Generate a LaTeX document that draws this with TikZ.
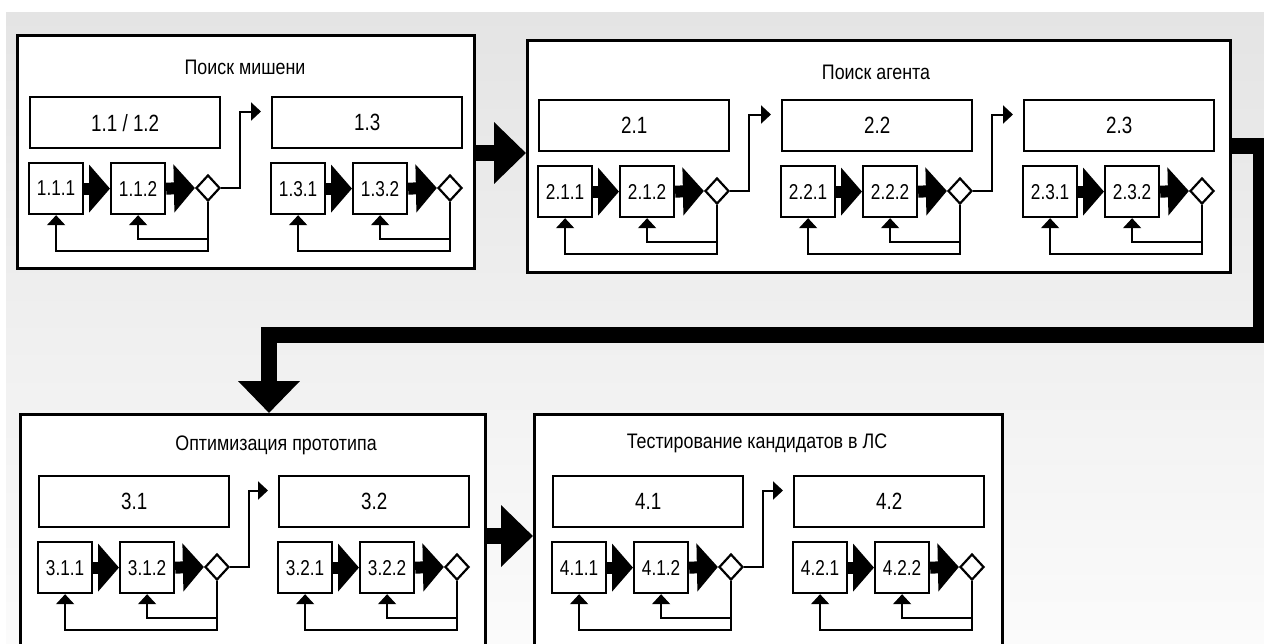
\documentclass[tikz,border=0pt]{standalone}
\usepackage{fontspec}
\setmainfont{Liberation Sans}[FakeStretch=0.8]
\newfontfamily\ttlfont{Liberation Sans}[FakeStretch=0.85]
\usetikzlibrary{arrows.meta,calc,shapes.geometric}
\tikzset{
  outer/.style={draw, line width=2.6pt, fill=white, anchor=north west, inner sep=0pt},
  hdr/.style={draw, line width=2.4pt, fill=white, minimum width=190pt, minimum height=51pt,
    anchor=north west, inner sep=0pt, font=\fontsize{23.5}{23.5}\selectfont},
  sbox/.style={draw, line width=2.2pt, fill=white, minimum width=54pt, minimum height=51pt,
    anchor=north west, inner sep=0pt, font=\fontsize{21.5}{21.5}\selectfont},
  dec/.style={diamond, draw, line width=2.2pt, fill=white, minimum width=24pt,
    minimum height=26pt, inner sep=0pt},
  conn/.style={line width=2pt, -{Triangle[length=10pt,width=18pt]}},
  fat/.style={line width=12pt, -{Triangle[length=21pt,width=47pt]}},
  big/.style={line width=16pt, line join=miter, -{Triangle[length=32pt,width=60pt]}},
  ttl/.style={font=\ttlfont\fontsize{21}{21}\selectfont, inner sep=0pt}
}
\newcommand\modul[6]{%
  \node[hdr] (h#1) at (#2,#3) {#4};
  \node[sbox] (a#1) at (#2-1,#3+66) {#5};
  \node[sbox] (b#1) at (#2+81,#3+66) {#6};
  \node[dec] (d#1) at (#2+179,#3+92) {};
  \draw[fat] (a#1.east) -- (b#1.west);
  \draw[fat] (b#1.east) -- (d#1.west);
  \draw[conn] (d#1.south) |- ($(a#1.south)+(0,36)$) -- (a#1.south);
  \draw[conn] ($(d#1.south|-b#1.south)+(0,24)$) -| (b#1.south);
}
\newcommand\jump[2]{%
  \draw[conn] (d#1.east) -| ($(h#1.north east)+(19,15.5)$) -- ($(h#2.north west)+(-10,15.5)$);
}
\begin{document}
\begin{tikzpicture}[x=1pt,y=-1pt]
\useasboundingbox (0,0) rectangle (1264,643);
\clip (0,0) rectangle (1264,643);
\fill[white] (0,0) rectangle (1264,643);
\shade[top color={rgb,255:red,228;green,228;blue,228}, bottom color={rgb,255:red,251;green,251;blue,251}]
  (6,12) rectangle (1264,643);

% outer groups
\node[outer, minimum width=457pt, minimum height=233pt] (g1) at (16,34) {};
\node[outer, minimum width=703pt, minimum height=232pt] (g2) at (526,39) {};
\node[outer, minimum width=465pt, minimum height=260pt] (g3) at (19,413) {};
\node[outer, minimum width=468pt, minimum height=260pt] (g4) at (533,413) {};

\node[ttl] (t1) at (245,67) {Поиск мишени};
\node[ttl] (t2) at (876,72) {Поиск агента};
\node[ttl] (t3) at (276,445) {Оптимизация прототипа};
\node[ttl] (t4) at (757,443) {Тестирование кандидатов в ЛС};

% group 1
\modul{11}{29}{96}{1.1 / 1.2}{1.1.1}{1.1.2}
\modul{13}{271}{96}{1.3}{1.3.1}{1.3.2}
\jump{11}{13}
% group 2
\modul{21}{538}{99}{2.1}{2.1.1}{2.1.2}
\modul{22}{781}{99}{2.2}{2.2.1}{2.2.2}
\modul{23}{1023}{99}{2.3}{2.3.1}{2.3.2}
\jump{21}{22}
\jump{22}{23}
% group 3
\modul{31}{38}{475}{3.1}{3.1.1}{3.1.2}
\modul{32}{278}{475}{3.2}{3.2.1}{3.2.2}
\jump{31}{32}
% group 4
\modul{41}{552}{475}{4.1}{4.1.1}{4.1.2}
\modul{42}{793}{475}{4.2}{4.2.1}{4.2.2}
\jump{41}{42}

% big connectors
\draw[big] ($(g1.north east)+(0,119)$) -- ($(g2.north west)+(0,114)$);
\coordinate (turnR) at (1261,335);
\draw[big] ($(g2.north east)+(0,106.5)$) -| (turnR) -| ($(g3.north west)+(250,0)$);
\draw[big] ($(g3.north east)+(0,123)$) -- ($(g4.north west)+(0,123)$);
\end{tikzpicture}
\end{document}
